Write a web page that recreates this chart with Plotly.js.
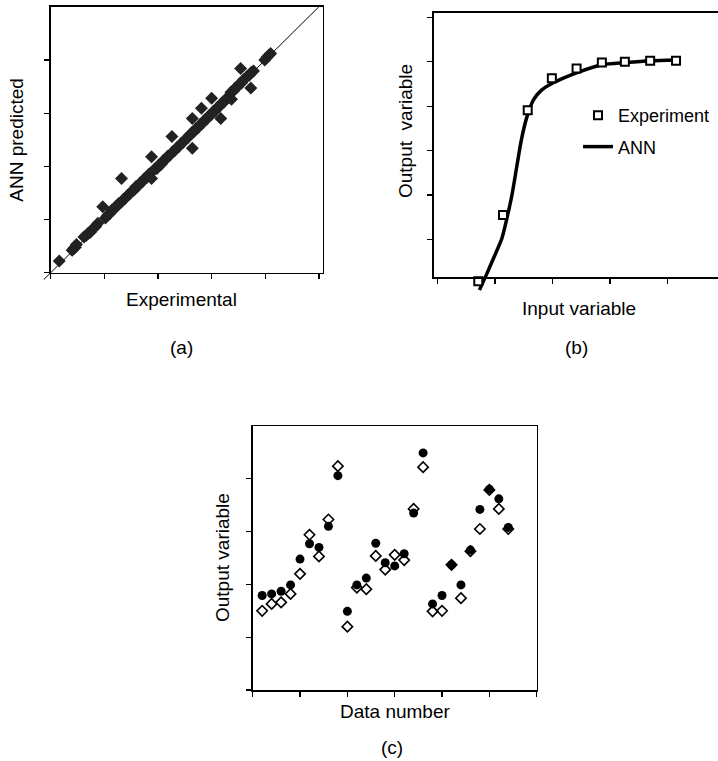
<!DOCTYPE html>
<html><head><meta charset="utf-8">
<script src="https://cdn.plot.ly/plotly-3.0.1.min.js"></script>
<style>html,body{margin:0;padding:0;background:#fff}#chart{width:718px;height:761px}</style>
</head><body><div id="chart"></div>
<script>
// ---------- Panel (a): ANN predicted vs experimental ----------
const aExperimental = [0.16,
  0.40,0.43,0.46,0.48,
  0.62,0.66,0.70,0.74,0.79,0.84,0.88,
  0.97,
  1.02,1.06,1.10,1.14,1.19,1.23,
  1.32,
  1.27,1.31,1.35,1.39,1.43,1.47,1.51,1.55,1.59,1.63,1.67,1.71,1.75,1.79,1.83,1.87,
  1.88,1.88,
  1.94,1.98,2.02,2.06,2.10,2.14,2.18,2.22,2.27,2.31,2.35,2.39,2.43,2.47,2.51,2.55,2.59,
  2.26,2.64,2.64,2.81,3.00,3.17,
  2.63,2.67,2.71,2.75,2.79,2.83,2.87,2.91,2.95,2.99,3.03,3.07,3.11,3.15,3.19,3.23,3.27,3.31,
  3.37,
  3.36,3.40,3.44,3.48,3.52,3.56,3.60,
  3.54,3.73,
  3.66,3.70,3.74,3.78,
  3.99,4.03,4.07,4.10];
const aPredicted = [0.22,
  0.42,0.46,0.48,0.53,
  0.67,0.70,0.74,0.76,0.83,0.87,0.93,
  1.24,
  1.03,1.08,1.11,1.18,1.20,1.26,
  1.77,
  1.30,1.32,1.37,1.40,1.45,1.48,1.53,1.55,1.62,1.63,1.69,1.71,1.77,1.79,1.85,1.88,
  2.18,1.77,
  1.95,1.96,2.03,2.04,2.11,2.13,2.19,2.21,2.27,2.29,2.35,2.37,2.43,2.45,2.51,2.53,2.59,
  2.56,2.34,2.90,3.09,3.28,2.90,
  2.63,2.65,2.71,2.73,2.79,2.81,2.87,2.89,2.95,2.97,3.03,3.05,3.11,3.13,3.19,3.21,3.27,3.29,
  3.26,
  3.39,3.41,3.47,3.49,3.55,3.57,3.63,
  3.84,3.47,
  3.69,3.71,3.77,3.79,
  4.00,4.05,4.09,4.12];
const aDiagonal = [-0.13, 5.0];

// ---------- Panel (b): output vs input ----------
const bInputExp  = [0.71, 1.14, 1.57, 1.99, 2.42, 2.86, 3.26, 3.70, 4.15];
const bOutputExp = [0.06, 1.55, 3.91, 4.63, 4.85, 4.98, 5.00, 5.02, 5.02];
const bInputAnn  = [0.73,0.86,1.00,1.12,1.20,1.29,1.38,1.46,1.55,1.67,1.81,1.99,2.19,2.42,2.86,3.28,3.70,4.14];
const bOutputAnn = [-0.14,0.23,0.65,1.02,1.43,1.96,2.64,3.24,3.73,4.14,4.36,4.51,4.63,4.75,4.93,4.98,5.02,5.04];

// ---------- Panel (c): output vs data number ----------
const cDataNumber = [1,2,3,4,5,6,7,8,9,10,11,12,13,14,15,16,17,18,19,20,21,22,23,24,25,26,27];
const cAnn = [1.79,1.82,1.87,1.99,2.48,2.77,2.70,3.10,4.06,1.49,1.99,2.12,2.78,2.41,2.35,2.58,3.35,4.49,1.63,1.79,2.37,1.99,2.65,3.42,3.80,3.62,3.08];
const cExp = [1.50,1.63,1.66,1.82,2.20,2.94,2.53,3.23,4.24,1.20,1.94,1.91,2.54,2.28,2.56,2.46,3.43,4.22,1.49,1.50,2.37,1.74,2.63,3.05,3.79,3.43,3.05];

// ---------- layout helpers ----------
const W = 718, H = 761;
const fx = px => px / W;
const fy = py => 1 - py / H;
function extend(range, p0, p1, q0, q1) {
  const s = (range[1] - range[0]) / (p1 - p0);
  return [range[0] + (q0 - p0) * s, range[0] + (q1 - p0) * s];
}
const FONT = {family: 'Liberation Sans, Arial, sans-serif', size: 19, color: '#000'};
const axBase = {showgrid:false, zeroline:false, showticklabels:false, ticks:'outside',
  ticklen:5, tickwidth:1.2, tickcolor:'#000', linecolor:'#000', showline:true, fixedrange:true};
const hidden = {visible:false, fixedrange:true};

// Panel (a) geometry
const aX = [50.7, 322.7], aXR = [0, 5.07];
const aY = [272.7, 6.7],  aYR = [0, 5];
// Panel (b) geometry
const bX = [434, 718], bXR = [-0.06, 4.88];
const bY = [276.7, 13.3], bYR = [0.16, 6.09];
// Panel (c) geometry
const cX = [252.7, 536.7], cY = [690, 426];

const data = [
  // (a) diagonal on an overlay area that reaches a little past the frame corner
  {x: aDiagonal, y: aDiagonal, xaxis:'x', yaxis:'y', mode:'lines', showlegend:false,
   line:{color:'#000', width:1}, hoverinfo:'skip'},
  {x: aExperimental, y: aPredicted, xaxis:'x2', yaxis:'y2', mode:'markers', showlegend:false,
   name:'ANN predicted', marker:{symbol:'diamond', size:10, color:'#222'}, cliponaxis:false},
  // (b) ANN curve and experiment points on an overlay that reaches below the x axis
  {x: bInputAnn, y: bOutputAnn, xaxis:'x3', yaxis:'y3', mode:'lines', name:'ANN',
   line:{color:'#000', width:3.5, shape:'spline', smoothing:0.8}, legendrank:2, legendgroup:'g2'},
  {x: bInputExp, y: bOutputExp, xaxis:'x3', yaxis:'y3', mode:'markers', name:'Experiment', cliponaxis:false,
   marker:{symbol:'square', size:8, color:'#fff', line:{color:'#000', width:2}}, legendrank:1, legendgroup:'g1'},
  // (b) frame axes (nothing drawn by this trace; it only makes the framed subplot exist)
  {x: bInputExp, y: bOutputExp, xaxis:'x4', yaxis:'y4', mode:'none', showlegend:false, hoverinfo:'skip'},
  // (c)
  {x: cDataNumber, y: cExp, xaxis:'x5', yaxis:'y5', mode:'markers', name:'Experiment', showlegend:false,
   marker:{symbol:'diamond-open', size:8, color:'#000', line:{color:'#000', width:1.6}}},
  {x: cDataNumber, y: cAnn, xaxis:'x5', yaxis:'y5', mode:'markers', name:'ANN', showlegend:false,
   marker:{symbol:'circle', size:9, color:'#000'}}
];

function ann(text, cx, cy, rot) {
  return {text, x: fx(cx), y: fy(cy), xref:'paper', yref:'paper', xanchor:'center', yanchor:'middle',
    showarrow:false, font: FONT, textangle: rot || 0};
}

const layout = {
  width: W, height: H, margin:{l:0, r:0, t:0, b:0},
  paper_bgcolor:'#fff', plot_bgcolor:'rgba(0,0,0,0)', font: FONT,
  xaxis: Object.assign({}, hidden, {domain:[fx(40), fx(aX[1])], range: extend(aXR, aX[0], aX[1], 40, aX[1]), anchor:'y'}),
  yaxis: Object.assign({}, hidden, {domain:[fy(282), fy(aY[1])], range: extend(aYR, aY[0], aY[1], 282, aY[1]), anchor:'x'}),
  xaxis2: Object.assign({}, axBase, {domain:[fx(aX[0]), fx(aX[1])], range: aXR, anchor:'y2', mirror:true, linewidth:1.5, tickvals:[0,1,2,3,4,5]}),
  yaxis2: Object.assign({}, axBase, {domain:[fy(aY[0]), fy(aY[1])], range: aYR, anchor:'x2', mirror:true, linewidth:1.5, tickvals:[0,1,2,3,4]}),
  xaxis3: Object.assign({}, hidden, {domain:[fx(bX[0]), 1], range: bXR, anchor:'y3'}),
  yaxis3: Object.assign({}, hidden, {domain:[fy(298), fy(bY[1])], range: extend(bYR, bY[0], bY[1], 298, bY[1]), anchor:'x3'}),
  xaxis4: Object.assign({}, axBase, {domain:[fx(bX[0]), 1], range: bXR, anchor:'y4', mirror:true, linewidth:2.5, tickvals:[0,1,2,3,4]}),
  yaxis4: Object.assign({}, axBase, {domain:[fy(bY[0]), fy(bY[1])], range: bYR, anchor:'x4', linewidth:2.5, tickvals:[1,2,3,4,5,6]}),
  xaxis5: Object.assign({}, axBase, {domain:[fx(cX[0]), fx(cX[1])], range:[0,30], anchor:'y5', mirror:true, linewidth:1.5, tickvals:[0,5,10,15,20,25,30]}),
  yaxis5: Object.assign({}, axBase, {domain:[fy(cY[0]), fy(cY[1])], range:[0,5], anchor:'x5', mirror:true, linewidth:1.5, tickvals:[0,1,2,3,4]}),
  showlegend: true,
  legend: {x: fx(578), y: fy(97), xanchor:'left', yanchor:'top', bgcolor:'rgba(0,0,0,0)', borderwidth:0,
    font:{family: FONT.family, size:18, color:'#000'}, tracegroupgap:5, traceorder:'grouped'},
  annotations: [
    ann('Experimental', 181, 299),
    ann('(a)', 181, 347.5),
    ann('ANN predicted', 16.7, 140, -90),
    ann('Input variable', 578.8, 308.5),
    ann('(b)', 576, 347),
    ann('Output\u00a0 variable', 405, 131, -90),
    ann('Data number', 395.5, 711.7),
    ann('(c)', 392, 747.5),
    ann('Output variable', 222, 558, -90)
  ]
};

Plotly.newPlot('chart', data, layout, {displayModeBar:false, staticPlot:true});
</script>
</body></html>
